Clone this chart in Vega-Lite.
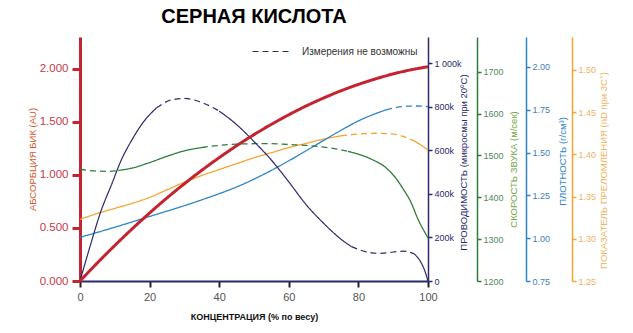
{
  "$schema": "https://vega.github.io/schema/vega-lite/v6.json",
  "width": 348,
  "height": 244,
  "autosize": {"type": "none"},
  "padding": {"left": 80, "top": 37, "right": 205, "bottom": 52},
  "config": {"font": "Liberation Sans", "view": {"stroke": null}, "axis": {"grid": false}},
  "title": {"text": "СЕРНАЯ КИСЛОТА", "font": "Liberation Sans", "fontSize": 20, "fontWeight": "bold", "color": "#000000", "anchor": "middle", "frame": "group", "offset": 5},
  "datasets": {
    "nir": [
      {"x": 0, "v": 0, "seg": "n1", "d": "solid"}, {"x": 5, "v": 0.171, "seg": "n1", "d": "solid"}, {"x": 10, "v": 0.335, "seg": "n1", "d": "solid"}, {"x": 15, "v": 0.492, "seg": "n1", "d": "solid"}, {"x": 20, "v": 0.641, "seg": "n1", "d": "solid"}, {"x": 25, "v": 0.783, "seg": "n1", "d": "solid"}, {"x": 30, "v": 0.917, "seg": "n1", "d": "solid"}, {"x": 35, "v": 1.044, "seg": "n1", "d": "solid"}, {"x": 40, "v": 1.163, "seg": "n1", "d": "solid"}, {"x": 45, "v": 1.275, "seg": "n1", "d": "solid"}, {"x": 50, "v": 1.38, "seg": "n1", "d": "solid"}, {"x": 55, "v": 1.477, "seg": "n1", "d": "solid"}, {"x": 60, "v": 1.567, "seg": "n1", "d": "solid"}, {"x": 65, "v": 1.65, "seg": "n1", "d": "solid"}, {"x": 70, "v": 1.725, "seg": "n1", "d": "solid"}, {"x": 75, "v": 1.793, "seg": "n1", "d": "solid"}, {"x": 80, "v": 1.853, "seg": "n1", "d": "solid"}, {"x": 85, "v": 1.906, "seg": "n1", "d": "solid"}, {"x": 90, "v": 1.952, "seg": "n1", "d": "solid"}, {"x": 95, "v": 1.99, "seg": "n1", "d": "solid"}, {"x": 100, "v": 2.02, "seg": "n1", "d": "solid"}
    ],
    "cond": [
      {"x": 0, "v": 0, "seg": "c1", "d": "solid"}, {"x": 3, "v": 165, "seg": "c1", "d": "solid"}, {"x": 6, "v": 320, "seg": "c1", "d": "solid"}, {"x": 9, "v": 440, "seg": "c1", "d": "solid"}, {"x": 12, "v": 560, "seg": "c1", "d": "solid"}, {"x": 15, "v": 650, "seg": "c1", "d": "solid"}, {"x": 18, "v": 725, "seg": "c1", "d": "solid"}, {"x": 22, "v": 795, "seg": "c1", "d": "solid"},
      {"x": 22, "v": 795, "seg": "c2", "d": "dashed"}, {"x": 26, "v": 830, "seg": "c2", "d": "dashed"}, {"x": 30, "v": 838, "seg": "c2", "d": "dashed"}, {"x": 34, "v": 825, "seg": "c2", "d": "dashed"}, {"x": 38, "v": 798, "seg": "c2", "d": "dashed"}, {"x": 40, "v": 780, "seg": "c2", "d": "dashed"},
      {"x": 40, "v": 780, "seg": "c3", "d": "solid"}, {"x": 45, "v": 718, "seg": "c3", "d": "solid"}, {"x": 50, "v": 640, "seg": "c3", "d": "solid"}, {"x": 55, "v": 555, "seg": "c3", "d": "solid"}, {"x": 60, "v": 455, "seg": "c3", "d": "solid"}, {"x": 65, "v": 350, "seg": "c3", "d": "solid"}, {"x": 70, "v": 265, "seg": "c3", "d": "solid"}, {"x": 75, "v": 192, "seg": "c3", "d": "solid"}, {"x": 78, "v": 158, "seg": "c3", "d": "solid"},
      {"x": 78, "v": 158, "seg": "c4", "d": "dashed"}, {"x": 82, "v": 135, "seg": "c4", "d": "dashed"}, {"x": 86, "v": 127, "seg": "c4", "d": "dashed"}, {"x": 90, "v": 133, "seg": "c4", "d": "dashed"}, {"x": 93, "v": 137, "seg": "c4", "d": "dashed"}, {"x": 96, "v": 125, "seg": "c4", "d": "dashed"},
      {"x": 96, "v": 125, "seg": "c5", "d": "solid"}, {"x": 98, "v": 85, "seg": "c5", "d": "solid"}, {"x": 99, "v": 50, "seg": "c5", "d": "solid"}, {"x": 100, "v": 0, "seg": "c5", "d": "solid"}
    ],
    "sound": [
      {"x": 0, "v": 1467, "seg": "g1", "d": "dashed"}, {"x": 4, "v": 1463, "seg": "g1", "d": "dashed"}, {"x": 8, "v": 1462, "seg": "g1", "d": "dashed"}, {"x": 11, "v": 1464, "seg": "g1", "d": "dashed"},
      {"x": 11, "v": 1464, "seg": "g2", "d": "solid"}, {"x": 15, "v": 1470, "seg": "g2", "d": "solid"}, {"x": 20, "v": 1483, "seg": "g2", "d": "solid"}, {"x": 25, "v": 1498, "seg": "g2", "d": "solid"}, {"x": 30, "v": 1511, "seg": "g2", "d": "solid"}, {"x": 35, "v": 1519, "seg": "g2", "d": "solid"},
      {"x": 35, "v": 1519, "seg": "g3", "d": "dashed"}, {"x": 40, "v": 1524, "seg": "g3", "d": "dashed"}, {"x": 45, "v": 1527, "seg": "g3", "d": "dashed"}, {"x": 50, "v": 1528, "seg": "g3", "d": "dashed"}, {"x": 55, "v": 1528, "seg": "g3", "d": "dashed"}, {"x": 60, "v": 1526, "seg": "g3", "d": "dashed"}, {"x": 65, "v": 1524, "seg": "g3", "d": "dashed"}, {"x": 70, "v": 1520, "seg": "g3", "d": "dashed"}, {"x": 74, "v": 1515, "seg": "g3", "d": "dashed"}, {"x": 77, "v": 1510, "seg": "g3", "d": "dashed"},
      {"x": 77, "v": 1510, "seg": "g4", "d": "solid"}, {"x": 80, "v": 1503, "seg": "g4", "d": "solid"}, {"x": 84, "v": 1490, "seg": "g4", "d": "solid"}, {"x": 88, "v": 1470, "seg": "g4", "d": "solid"}, {"x": 91, "v": 1443, "seg": "g4", "d": "solid"}, {"x": 93, "v": 1418, "seg": "g4", "d": "solid"}, {"x": 95, "v": 1390, "seg": "g4", "d": "solid"}, {"x": 97, "v": 1350, "seg": "g4", "d": "solid"}, {"x": 100, "v": 1303, "seg": "g4", "d": "solid"}
    ],
    "dens": [
      {"x": 0, "v": 1.005, "seg": "b1", "d": "solid"}, {"x": 5, "v": 1.034, "seg": "b1", "d": "solid"}, {"x": 10, "v": 1.064, "seg": "b1", "d": "solid"}, {"x": 15, "v": 1.095, "seg": "b1", "d": "solid"}, {"x": 20, "v": 1.127, "seg": "b1", "d": "solid"}, {"x": 25, "v": 1.158, "seg": "b1", "d": "solid"}, {"x": 30, "v": 1.19, "seg": "b1", "d": "solid"}, {"x": 35, "v": 1.224, "seg": "b1", "d": "solid"}, {"x": 40, "v": 1.26, "seg": "b1", "d": "solid"}, {"x": 45, "v": 1.299, "seg": "b1", "d": "solid"}, {"x": 50, "v": 1.345, "seg": "b1", "d": "solid"}, {"x": 55, "v": 1.396, "seg": "b1", "d": "solid"}, {"x": 60, "v": 1.452, "seg": "b1", "d": "solid"}, {"x": 65, "v": 1.511, "seg": "b1", "d": "solid"}, {"x": 70, "v": 1.571, "seg": "b1", "d": "solid"}, {"x": 75, "v": 1.63, "seg": "b1", "d": "solid"}, {"x": 80, "v": 1.685, "seg": "b1", "d": "solid"}, {"x": 85, "v": 1.728, "seg": "b1", "d": "solid"}, {"x": 88, "v": 1.75, "seg": "b1", "d": "solid"},
      {"x": 88, "v": 1.75, "seg": "b2", "d": "dashed"}, {"x": 91, "v": 1.764, "seg": "b2", "d": "dashed"}, {"x": 94, "v": 1.771, "seg": "b2", "d": "dashed"}, {"x": 97, "v": 1.772, "seg": "b2", "d": "dashed"}, {"x": 100, "v": 1.768, "seg": "b2", "d": "dashed"}
    ],
    "refr": [
      {"x": 0, "v": 1.323, "seg": "o1", "d": "solid"}, {"x": 5, "v": 1.33, "seg": "o1", "d": "solid"}, {"x": 10, "v": 1.336, "seg": "o1", "d": "solid"}, {"x": 15, "v": 1.342, "seg": "o1", "d": "solid"}, {"x": 20, "v": 1.349, "seg": "o1", "d": "solid"}, {"x": 25, "v": 1.358, "seg": "o1", "d": "solid"}, {"x": 30, "v": 1.367, "seg": "o1", "d": "solid"}, {"x": 35, "v": 1.375, "seg": "o1", "d": "solid"}, {"x": 40, "v": 1.382, "seg": "o1", "d": "solid"}, {"x": 45, "v": 1.389, "seg": "o1", "d": "solid"}, {"x": 50, "v": 1.396, "seg": "o1", "d": "solid"}, {"x": 55, "v": 1.402, "seg": "o1", "d": "solid"}, {"x": 60, "v": 1.408, "seg": "o1", "d": "solid"}, {"x": 65, "v": 1.413, "seg": "o1", "d": "solid"}, {"x": 70, "v": 1.418, "seg": "o1", "d": "solid"}, {"x": 75, "v": 1.422, "seg": "o1", "d": "solid"},
      {"x": 75, "v": 1.422, "seg": "o2", "d": "dashed"}, {"x": 80, "v": 1.424, "seg": "o2", "d": "dashed"}, {"x": 85, "v": 1.425, "seg": "o2", "d": "dashed"}, {"x": 90, "v": 1.424, "seg": "o2", "d": "dashed"}, {"x": 93, "v": 1.421, "seg": "o2", "d": "dashed"}, {"x": 96, "v": 1.416, "seg": "o2", "d": "dashed"},
      {"x": 96, "v": 1.416, "seg": "o3", "d": "solid"}, {"x": 98, "v": 1.411, "seg": "o3", "d": "solid"}, {"x": 100, "v": 1.405, "seg": "o3", "d": "solid"}
    ]
  },
  "encoding": {
    "x": {"field": "x", "type": "quantitative", "scale": {"domain": [0, 100], "nice": false},
      "axis": {"values": [0, 20, 40, 60, 80, 100], "labelFlush": false, "domainColor": "#2b2a6b", "domainWidth": 2, "tickColor": "#222222", "tickWidth": 2, "tickSize": 6, "labelColor": "#555555", "labelFontSize": 11, "labelPadding": 4, "title": "КОНЦЕНТРАЦИЯ (% по весу)", "titleFontSize": 9, "titleFontWeight": "bold", "titleColor": "#111111", "titleY": 35, "titleBaseline": "middle"}},
    "detail": {"field": "seg", "type": "nominal"},
    "strokeDash": {"field": "d", "type": "nominal", "scale": {"domain": ["solid", "dashed"], "range": [[1, 0], [6, 4]]},
      "legend": {"values": ["dashed"], "title": null, "orient": "none", "legendX": 172, "legendY": -5, "symbolType": "stroke", "symbolSize": 1444, "symbolStrokeColor": "#333333", "symbolStrokeWidth": 1, "labelExpr": "'Измерения не возможны'", "labelFontSize": 10, "labelColor": "#333333", "labelOffset": 11}}
  },
  "layer": [
    {"data": {"name": "refr"}, "mark": {"type": "line", "color": "#f5a533", "strokeWidth": 1.3, "interpolate": "monotone"},
      "encoding": {"y": {"field": "v", "type": "quantitative", "scale": {"domain": [1.25, 1.539], "nice": false, "zero": false},
        "axis": {"orient": "right", "offset": 144, "values": [1.25, 1.3, 1.35, 1.4, 1.45, 1.5], "format": ".2f", "domainColor": "#f5a533", "domainWidth": 1.5, "tickColor": "#f5a533", "tickWidth": 1.5, "tickSize": 4, "labelColor": "#f0b25e", "labelFontSize": 9, "labelPadding": 2, "title": "ПОКАЗАТЕЛЬ ПРЕЛОМЛЕНИЯ (nD при 3С°)", "titleColor": "#f2b55c", "titleFontSize": 9.5, "titleFontWeight": "normal", "titleAngle": 270, "titleX": 31, "titleY": 133, "titleAlign": "center", "titleBaseline": "middle"}}}},
    {"data": {"name": "dens"}, "mark": {"type": "line", "color": "#2d85c5", "strokeWidth": 1.3, "interpolate": "monotone"},
      "encoding": {"y": {"field": "v", "type": "quantitative", "scale": {"domain": [0.75, 2.175], "nice": false, "zero": false},
        "axis": {"orient": "right", "offset": 98, "values": [0.75, 1, 1.25, 1.5, 1.75, 2], "format": ".2f", "domainColor": "#2d85c5", "domainWidth": 1.5, "tickColor": "#2d85c5", "tickWidth": 1.5, "tickSize": 4, "labelColor": "#3f7fb8", "labelFontSize": 9, "labelPadding": 2, "title": "ПЛОТНОСТЬ (г/см³)", "titleColor": "#2d85c5", "titleFontSize": 9.5, "titleFontWeight": "normal", "titleAngle": 270, "titleX": 36, "titleY": 124, "titleAlign": "center", "titleBaseline": "middle"}}}},
    {"data": {"name": "sound"}, "mark": {"type": "line", "color": "#2e7d3a", "strokeWidth": 1.3, "interpolate": "monotone"},
      "encoding": {"y": {"field": "v", "type": "quantitative", "scale": {"domain": [1200, 1783], "nice": false, "zero": false},
        "axis": {"orient": "right", "offset": 49, "values": [1200, 1300, 1400, 1500, 1600, 1700], "format": "d", "domainColor": "#2e7d3a", "domainWidth": 1.5, "tickColor": "#2e7d3a", "tickWidth": 1.5, "tickSize": 4, "labelColor": "#4f8a5c", "labelFontSize": 9, "labelPadding": 2, "title": "СКОРОСТЬ ЗВУКА (м/сек)", "titleColor": "#7aa54a", "titleFontSize": 9.5, "titleFontWeight": "normal", "titleAngle": 270, "titleX": 36, "titleY": 132, "titleAlign": "center", "titleBaseline": "middle"}}}},
    {"data": {"name": "cond"}, "mark": {"type": "line", "color": "#2b2a6b", "strokeWidth": 1.2, "interpolate": "monotone"},
      "encoding": {"y": {"field": "v", "type": "quantitative", "scale": {"domain": [0, 1120], "nice": false},
        "axis": {"orient": "right", "offset": 0, "values": [0, 200, 400, 600, 800, 1000], "labelExpr": "datum.value == 0 ? '0' : (datum.value == 1000 ? '1 000k' : datum.value + 'k')", "domainColor": "#2b2a6b", "domainWidth": 1.5, "tickColor": "#2b2a6b", "tickWidth": 1.5, "tickSize": 4, "labelColor": "#2b2a6b", "labelFontSize": 9, "labelPadding": 2, "title": "ПРОВОДИМОСТЬ (микросмы при 20ºC)", "titleColor": "#2b2a6b", "titleFontSize": 9.5, "titleFontWeight": "normal", "titleAngle": 270, "titleX": 35, "titleY": 125, "titleAlign": "center", "titleBaseline": "middle"}}}},
    {"data": {"name": "nir"}, "mark": {"type": "line", "color": "#c4242f", "strokeWidth": 3, "interpolate": "natural"},
      "encoding": {"y": {"field": "v", "type": "quantitative", "scale": {"domain": [0, 2.3], "nice": false},
        "axis": {"orient": "left", "values": [0, 0.5, 1, 1.5, 2], "format": ".3f", "domainColor": "#c4242f", "domainWidth": 3, "tickColor": "#c4242f", "tickWidth": 3, "tickSize": 8, "labelColor": "#c4394a", "labelFontSize": 11.5, "labelPadding": 4, "title": "АБСОРБЦИЯ БИК (AU)", "titleColor": "#d3572a", "titleFontSize": 9.5, "titleFontWeight": "normal", "titleAngle": 270, "titleX": -48, "titleY": 122, "titleAlign": "center", "titleBaseline": "middle"}}}}
  ],
  "resolve": {"scale": {"y": "independent"}}
}
